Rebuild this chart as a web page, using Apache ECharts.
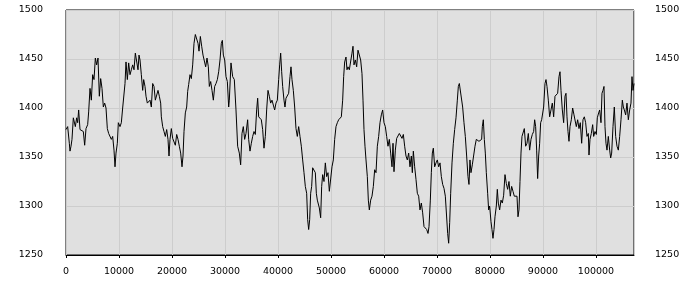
<!DOCTYPE html>
<html>
<head>
<meta charset="utf-8">
<script src="https://cdn.jsdelivr.net/npm/echarts@6/dist/echarts.min.js"></script>
<style>
html,body{margin:0;padding:0;background:#fff;}
#chart{width:700px;height:300px;}
</style>
</head>
<body>
<div id="chart"></div>
<script>
var samples = [0,315,629,755,944,1132,1384,1761,2013,2202,2390,2642,3019,3271,3522,3774,4089,4277,4529,4780,5032,5284,5535,5787,6038,6290,6542,6793,7045,7296,7548,7800,8051,8303,8554,8806,9058,9246,9435,9687,9875,10190,10441,10693,10945,11133,11322,11574,11825,12077,12328,12580,12832,13083,13335,13586,13775,13964,14215,14467,14656,14907,15096,15348,15599,15851,16102,16354,16606,16857,17109,17360,17612,17864,17989,18241,18493,18744,18996,19247,19436,19625,19876,20128,20380,20631,20883,21134,21386,21638,21889,22078,22267,22518,22770,22959,23147,23399,23650,23902,24154,24405,24657,24908,25097,25349,25600,25852,26104,26355,26607,26858,27047,27299,27550,27802,28053,28305,28557,28808,29060,29311,29500,29689,29940,30192,30444,30695,30817,31131,31446,31760,32075,32389,32704,32955,33207,33458,33710,33962,34276,34465,34717,34968,35220,35471,35723,35974,36163,36352,36603,36855,37107,37358,37610,37861,38113,38365,38616,38868,39119,39371,39623,39874,40126,40315,40503,40692,40881,41132,41321,41510,41761,42013,42264,42453,42642,42893,43145,43397,43648,43900,44151,44403,44655,44906,45158,45409,45598,45787,45976,46164,46353,46542,46793,47045,47234,47422,47611,47800,48051,48240,48429,48680,48932,49183,49435,49687,49938,50190,50441,50693,50945,51196,51448,51699,51951,52203,52391,52580,52832,53020,53209,53461,53712,53964,54153,54341,54593,54844,55096,55348,55599,55851,56040,56228,56417,56606,56857,57046,57235,57486,57738,57989,58241,58493,58744,58996,59247,59499,59751,60002,60254,60505,60757,61009,61260,61512,61701,61889,62141,62392,62644,62896,63147,63399,63650,63902,64154,64405,64657,64908,65160,65349,65537,65789,66041,66292,66544,66795,67047,67299,67550,67802,68053,68305,68494,68745,68934,69123,69311,69563,69815,70066,70318,70569,70821,71073,71324,71576,71827,72016,72205,72394,72583,72834,73086,73337,73589,73841,74029,74218,74591,74842,75094,75345,75597,75849,76037,76226,76415,76666,76918,77170,77421,77673,77924,78176,78428,78553,78742,78931,79119,79308,79560,79748,79937,80189,80377,80566,80755,80944,81195,81384,81573,81824,82076,82327,82579,82831,83082,83334,83585,83837,84089,84340,84592,84843,85095,85284,85472,85661,85850,86038,86227,86479,86730,86982,87234,87485,87737,87988,88240,88429,88617,88806,88995,89183,89372,89561,89750,89938,90127,90379,90567,90756,91008,91259,91511,91762,92014,92266,92517,92769,93020,93209,93398,93649,93901,94153,94341,94530,94719,94907,95096,95348,95599,95851,96102,96291,96543,96794,97046,97298,97549,97801,98052,98304,98556,98681,98870,99122,99373,99562,99814,100065,100254,100505,100694,100946,101134,101323,101512,101701,101889,102078,102330,102581,102770,102959,103211,103462,103714,103965,104217,104469,104720,104972,105161,105349,105601,105853,106104,106356,106607,106796,106985,107174];
var prices = [1378,1381,1364,1356,1361,1368,1390,1381,1390,1385,1398,1378,1376,1376,1362,1379,1383,1396,1420,1408,1434,1429,1451,1444,1451,1412,1430,1420,1401,1405,1400,1379,1374,1376,1368,1371,1357,1340,1354,1364,1385,1381,1385,1400,1401,1425,1447,1429,1446,1434,1439,1444,1439,1456,1454,1439,1454,1449,1434,1418,1429,1422,1412,1405,1403,1408,1401,1425,1422,1408,1410,1418,1412,1405,1391,1381,1376,1371,1378,1368,1351,1368,1379,1369,1368,1362,1373,1368,1361,1354,1340,1351,1376,1395,1401,1417,1424,1434,1430,1444,1466,1475,1473,1466,1458,1473,1463,1454,1454,1442,1451,1442,1422,1427,1418,1408,1422,1425,1429,1437,1449,1466,1469,1454,1449,1432,1427,1401,1408,1446,1432,1429,1398,1361,1354,1342,1374,1381,1368,1374,1388,1368,1356,1364,1371,1376,1373,1398,1410,1391,1393,1388,1378,1359,1371,1398,1418,1412,1405,1408,1403,1398,1405,1408,1429,1444,1456,1437,1422,1408,1401,1410,1412,1415,1432,1442,1429,1418,1401,1379,1371,1381,1371,1361,1347,1334,1320,1313,1286,1276,1286,1313,1320,1339,1340,1334,1313,1306,1306,1298,1288,1320,1332,1325,1344,1330,1334,1315,1317,1340,1347,1368,1381,1385,1388,1390,1391,1408,1432,1447,1452,1439,1442,1439,1441,1456,1463,1444,1449,1442,1459,1459,1449,1435,1408,1378,1361,1347,1330,1306,1296,1306,1310,1320,1337,1334,1361,1371,1385,1393,1398,1385,1381,1371,1361,1368,1354,1340,1364,1335,1357,1369,1371,1374,1376,1369,1373,1361,1351,1347,1354,1340,1351,1334,1356,1340,1327,1313,1310,1296,1303,1293,1279,1279,1276,1272,1279,1306,1334,1354,1359,1340,1344,1347,1340,1344,1330,1322,1318,1310,1310,1272,1262,1283,1313,1344,1364,1378,1390,1408,1422,1425,1425,1401,1385,1371,1351,1330,1322,1347,1334,1342,1340,1361,1368,1369,1366,1366,1368,1381,1388,1368,1354,1334,1313,1296,1300,1284,1276,1267,1276,1289,1300,1317,1303,1296,1306,1303,1311,1332,1323,1317,1325,1310,1320,1315,1310,1308,1310,1289,1296,1325,1354,1371,1369,1379,1361,1364,1374,1357,1368,1373,1376,1388,1381,1357,1328,1351,1364,1385,1388,1390,1401,1425,1429,1422,1408,1391,1398,1405,1391,1412,1413,1415,1432,1437,1418,1398,1385,1412,1415,1391,1376,1366,1381,1388,1400,1393,1391,1381,1388,1379,1385,1364,1388,1391,1385,1371,1374,1352,1368,1374,1383,1371,1376,1373,1390,1395,1398,1385,1415,1418,1422,1381,1364,1357,1371,1357,1349,1354,1381,1401,1371,1361,1357,1371,1388,1408,1401,1398,1393,1405,1388,1398,1405,1432,1418,1425];
var yTicks = [1250, 1300, 1350, 1400, 1450, 1500];
var xTickStep = 10000;

var seriesData = samples.map(function (s, i) { return [s, prices[i]]; });
var plain = function (v) { return String(v); };

var chart = echarts.init(document.getElementById('chart'), null, {renderer: 'canvas'});
var labelStyle = {color: '#000', fontFamily: 'DejaVu Sans', fontSize: 9.5, formatter: plain};
chart.setOption({
  animation: false,
  backgroundColor: '#ffffff',
  grid: {
    left: 66, right: 66, top: 10, bottom: 45,
    show: true, backgroundColor: '#e0e0e0', borderColor: '#000', borderWidth: 1
  },
  xAxis: {
    type: 'value', min: 0, max: samples[samples.length - 1], interval: xTickStep,
    axisLine: {show: true, lineStyle: {color: '#000', width: 1}},
    axisTick: {show: true, length: 3, lineStyle: {color: '#000'}},
    axisLabel: Object.assign({margin: 12, showMaxLabel: false}, labelStyle),
    splitLine: {show: true, lineStyle: {color: '#cdcdcd', width: 1}}
  },
  yAxis: [{
    type: 'value', min: yTicks[0], max: yTicks[yTicks.length - 1], interval: 50,
    axisLine: {show: false}, axisTick: {show: false},
    axisLabel: Object.assign({margin: 23}, labelStyle),
    splitLine: {show: true, lineStyle: {color: '#cdcdcd', width: 1}}
  }, {
    type: 'value', position: 'right', min: yTicks[0], max: yTicks[yTicks.length - 1], interval: 50,
    axisLine: {show: false}, axisTick: {show: false},
    axisLabel: Object.assign({margin: 21}, labelStyle),
    splitLine: {show: false}
  }],
  series: [{
    type: 'line', data: seriesData, showSymbol: false, symbol: 'none',
    lineStyle: {color: '#000', width: 1}, smooth: false
  }]
});
</script>
</body>
</html>
